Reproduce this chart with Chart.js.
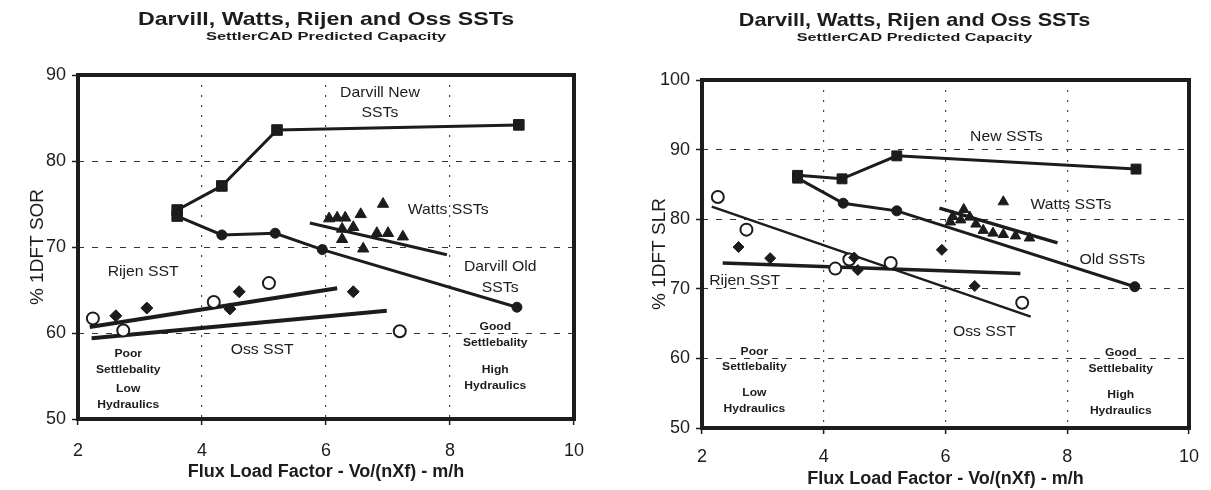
<!DOCTYPE html>
<html>
<head>
<meta charset="utf-8">
<script src="https://cdn.jsdelivr.net/npm/chart.js@4.4.1/dist/chart.umd.min.js"></script>
<style>
 html, body { margin: 0; padding: 0; background: #fff; }
 #wrap { position: relative; width: 1211px; height: 490px; }
 canvas { position: absolute; top: 0; }
 #sorChart { left: 0; }
 #slrChart { left: 605px; }
</style>
</head>
<body>
<div id="wrap">
 <canvas id="sorChart" width="605" height="490"></canvas>
 <canvas id="slrChart" width="606" height="490"></canvas>
</div>
<script>
'use strict';

var xTicks = [2, 4, 6, 8, 10];
var sorTicks = [50, 60, 70, 80, 90];
var slrTicks = [50, 60, 70, 80, 90, 100];

// left chart - % 1DFT SOR
var sorNewX = [3.6, 4.32, 5.21, 9.11];
var sorNewY = [74.3, 77.1, 83.6, 84.2];
var sorOldX = [3.6, 4.32, 5.18, 5.94, 9.08];
var sorOldY = [73.6, 71.4, 71.6, 69.7, 63.0];
var sorWattsX = [6.05, 6.18, 6.31, 6.56, 6.92, 6.26, 6.26, 6.44, 6.82, 7.0, 7.24, 6.6];
var sorWattsY = [73.3, 73.4, 73.4, 73.8, 75.0, 72.1, 70.9, 72.3, 71.6, 71.6, 71.2, 69.8];
var sorWattsFitX = [5.74, 7.95];
var sorWattsFitY = [72.8, 69.1];
var sorRijenX = [2.61, 3.11, 4.45, 4.6, 6.44];
var sorRijenY = [62.0, 62.9, 62.8, 64.8, 64.8];
var sorRijenFitX = [2.19, 6.18];
var sorRijenFitY = [60.7, 65.2];
var sorOssX = [2.24, 2.73, 4.19, 5.08, 7.19];
var sorOssY = [61.7, 60.3, 63.6, 65.8, 60.2];
var sorOssFitX = [2.22, 6.98];
var sorOssFitY = [59.4, 62.6];

var sorNotes = [
 ['Darvill New', 6.87, 87.9], ['SSTs', 6.87, 85.6],
 ['Watts SSTs', 7.97, 74.3],
 ['Darvill Old', 8.81, 67.7], ['SSTs', 8.81, 65.3],
 ['Rijen SST', 3.05, 67.1], ['Oss SST', 4.97, 58.0]
];
var sorZones = [
 ['Poor', 2.81, 57.6], ['Settlebality', 2.81, 55.7], ['Low', 2.81, 53.5], ['Hydraulics', 2.81, 51.6],
 ['Good', 8.73, 60.7], ['Settlebality', 8.73, 58.8], ['High', 8.73, 55.7], ['Hydraulics', 8.73, 53.8]
];

// right chart - % 1DFT SLR
var slrNewX = [3.57, 4.3, 5.2, 9.13];
var slrNewY = [86.3, 85.8, 89.1, 87.2];
var slrOldX = [3.57, 4.32, 5.2, 9.11];
var slrOldY = [85.9, 82.3, 81.2, 70.3];
var slrWattsX = [6.95, 6.3, 6.12, 6.25, 6.4, 6.5, 6.62, 6.78, 6.95, 7.15, 7.38, 6.08];
var slrWattsY = [82.5, 81.4, 80.4, 79.9, 80.3, 79.3, 78.4, 78.0, 77.8, 77.6, 77.3, 79.6];
var slrWattsFitX = [5.9, 7.84];
var slrWattsFitY = [81.6, 76.6];
var slrRijenX = [2.6, 3.12, 4.5, 4.56, 5.94, 6.48];
var slrRijenY = [76.0, 74.4, 74.5, 72.7, 75.6, 70.4];
var slrRijenFitX = [2.34, 7.23];
var slrRijenFitY = [73.7, 72.2];
var slrOssX = [2.26, 2.73, 4.19, 4.42, 5.1, 7.26];
var slrOssY = [83.2, 78.5, 72.9, 74.2, 73.7, 68.0];
var slrOssFitX = [2.16, 7.4];
var slrOssFitY = [81.8, 66.0];

var slrNotes = [
 ['New SSTs', 7.0, 91.9], ['Watts SSTs', 8.06, 82.1], ['Old SSTs', 8.74, 74.2],
 ['Rijen SST', 2.7, 71.2], ['Oss SST', 6.64, 63.8]
];
var slrZones = [
 ['Poor', 2.86, 60.9], ['Settlebality', 2.86, 58.8], ['Low', 2.86, 55.0], ['Hydraulics', 2.86, 52.7],
 ['Good', 8.88, 60.8], ['Settlebality', 8.88, 58.5], ['High', 8.88, 54.7], ['Hydraulics', 8.88, 52.4]
];

var FONT = '"Liberation Sans", Arial, sans-serif';
var INK = '#1c1c1c';

function pts(xs, ys) {
 return xs.map(function (x, i) { return {x: x, y: ys[i]}; });
}

function markers(xs, ys, style, r, fill) {
 return {data: pts(xs, ys), showLine: false, pointStyle: style, pointRadius: r, pointHoverRadius: r,
  pointBackgroundColor: fill, pointBorderColor: INK, pointBorderWidth: fill === '#fff' ? 2 : 1, order: 0};
}

function path(xs, ys, style, r, w) {
 return {data: pts(xs, ys), showLine: true, tension: 0, borderColor: INK, borderWidth: w,
  pointStyle: style, pointRadius: r, pointHoverRadius: r, pointBackgroundColor: INK,
  pointBorderColor: INK, pointBorderWidth: 1, order: 1};
}

function fit(xs, ys, w) {
 return {data: pts(xs, ys), showLine: true, tension: 0, borderColor: INK, borderWidth: w,
  pointRadius: 0, pointHoverRadius: 0, order: 2};
}

function stretchText(ctx, text, x, y, font, sx) {
 ctx.save();
 ctx.font = font;
 ctx.translate(x, y);
 ctx.scale(sx, 1);
 ctx.fillText(text, 0, 0);
 ctx.restore();
}

function makePaper(c) {
 return {
  id: 'paper',
  afterDraw: function (chart) {
   var ctx = chart.ctx, area = chart.chartArea;
   var xs = chart.scales.x, ys = chart.scales.y;
   ctx.save();
   ctx.strokeStyle = INK;
   ctx.lineWidth = 4;
   ctx.strokeRect(area.left, area.top, area.right - area.left, area.bottom - area.top);
   ctx.fillStyle = INK;
   ctx.textAlign = 'center';
   ctx.textBaseline = 'middle';
   var cx = (area.left + area.right) / 2 + c.titleShift;
   stretchText(ctx, 'Darvill, Watts, Rijen and Oss SSTs', cx, c.titleY, 'bold 19px ' + FONT, c.titleStretch);
   stretchText(ctx, 'SettlerCAD Predicted Capacity', cx, c.titleY + 17, 'bold 11px ' + FONT, c.subStretch);
   c.notes.forEach(function (n) {
    stretchText(ctx, n[0], xs.getPixelForValue(n[1]), ys.getPixelForValue(n[2]), '15px ' + FONT, 1.05);
   });
   c.zones.forEach(function (n) {
    stretchText(ctx, n[0], xs.getPixelForValue(n[1]), ys.getPixelForValue(n[2]), 'bold 11px ' + FONT, 1.1);
   });
   ctx.restore();
  }
 };
}

function makeChart(id, c) {
 return new Chart(document.getElementById(id), {
  type: 'scatter',
  data: {datasets: c.datasets},
  options: {
   responsive: false,
   animation: false,
   layout: {padding: {top: c.top, right: c.right, left: 0, bottom: 0}},
   plugins: {legend: {display: false}, tooltip: {enabled: false}},
   scales: {
    x: {
     type: 'linear', min: 2, max: 10,
     afterBuildTicks: function (s) { s.ticks = xTicks.map(function (v) { return {value: v}; }); },
     afterFit: function (s) { s.height = c.xHeight; },
     ticks: {color: INK, font: {family: FONT, size: 18}, padding: c.xPad},
     grid: {color: '#444', lineWidth: 1.2, tickLength: 6, tickColor: INK, tickWidth: 1.5, tickBorderDash: []},
     border: {display: false, dash: [2, 8]},
     title: {display: true, text: 'Flux Load Factor - Vo/(nXf) - m/h', color: INK,
      font: {family: FONT, size: 18, weight: 'bold'}, padding: {top: 0, bottom: c.xTitlePad}}
    },
    y: {
     type: 'linear', min: 50, max: c.yTicks[c.yTicks.length - 1],
     afterBuildTicks: function (s) { s.ticks = c.yTicks.map(function (v) { return {value: v}; }); },
     afterFit: function (s) { s.width = c.yWidth; },
     ticks: {color: INK, font: {family: FONT, size: 18}, padding: 6},
     grid: {color: '#333', lineWidth: 1, tickLength: 6, tickColor: INK, tickWidth: 1.5, tickBorderDash: []},
     border: {display: false, dash: [6, 8]},
     title: {display: true, text: c.yTitle, color: INK,
      font: {family: FONT, size: 19}, padding: {top: c.yTitlePad, bottom: 0}}
    }
   }
  },
  plugins: [makePaper(c)]
 });
}

makeChart('sorChart', {
 top: 75, right: 31, yWidth: 78, xHeight: 71, xPad: 15, xTitlePad: 7, yTitlePad: 26,
 yTicks: sorTicks, yTitle: '% 1DFT SOR',
 titleShift: 0, titleY: 20, titleStretch: 1.22, subStretch: 1.5,
 notes: sorNotes, zones: sorZones,
 datasets: [
  markers(sorWattsX, sorWattsY, 'triangle', 6.5, INK),
  markers(sorRijenX, sorRijenY, 'rectRot', 6, INK),
  markers(sorOssX, sorOssY, 'circle', 6, '#fff'),
  path(sorNewX, sorNewY, 'rect', 7.5, 3),
  path(sorOldX, sorOldY, ['rect', 'circle', 'circle', 'circle', 'circle'], [7.5, 5, 5, 5, 5], 3),
  fit(sorWattsFitX, sorWattsFitY, 3),
  fit(sorRijenFitX, sorRijenFitY, 4),
  fit(sorOssFitX, sorOssFitY, 4)
 ]
});

makeChart('slrChart', {
 top: 80, right: 16, yWidth: 97, xHeight: 62, xPad: 12, xTitlePad: 0, yTitlePad: 43,
 yTicks: slrTicks, yTitle: '% 1DFT SLR',
 titleShift: -31, titleY: 21, titleStretch: 1.14, subStretch: 1.47,
 notes: slrNotes, zones: slrZones,
 datasets: [
  markers(slrWattsX, slrWattsY, 'triangle', 6, INK),
  markers(slrRijenX, slrRijenY, 'rectRot', 5.5, INK),
  markers(slrOssX, slrOssY, 'circle', 6, '#fff'),
  path(slrNewX, slrNewY, 'rect', 7, 3),
  path(slrOldX, slrOldY, ['rect', 'circle', 'circle', 'circle'], [7, 5, 5, 5], 3),
  fit(slrWattsFitX, slrWattsFitY, 3.5),
  fit(slrRijenFitX, slrRijenFitY, 3.5),
  fit(slrOssFitX, slrOssFitY, 2.5)
 ]
});
</script>
</body>
</html>
